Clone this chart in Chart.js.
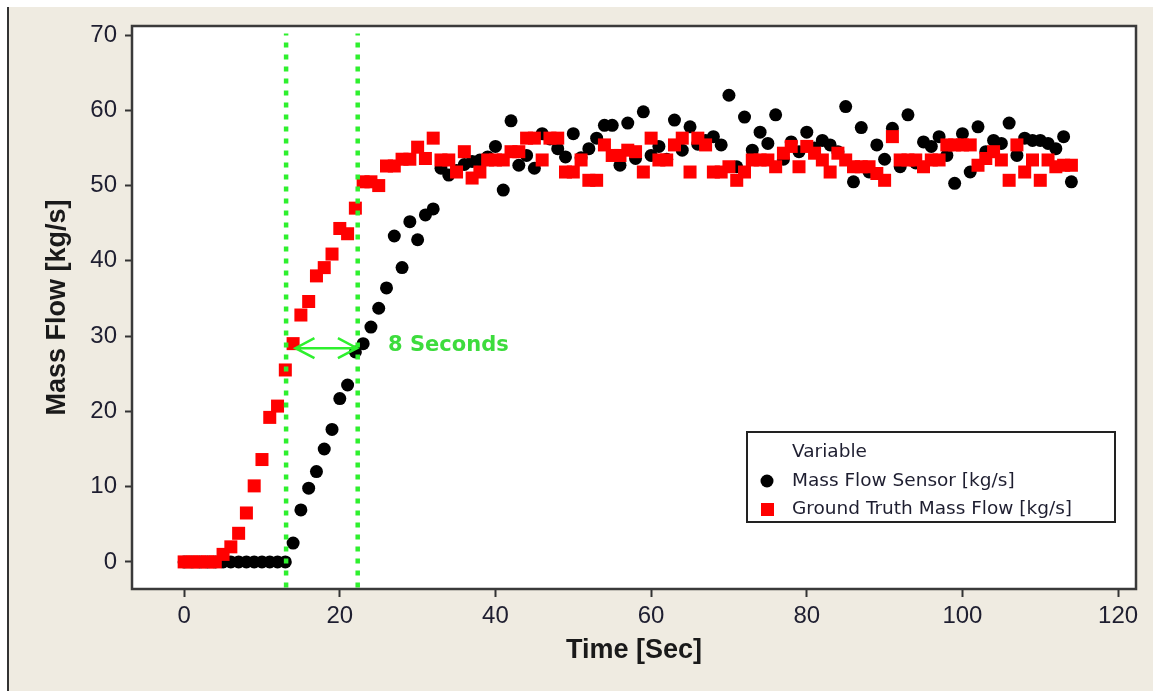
<!DOCTYPE html>
<html>
<head>
<meta charset="utf-8">
<title>Mass Flow</title>
<script src="https://cdn.jsdelivr.net/npm/chart.js@4.4.0/dist/chart.umd.min.js"></script>
<style>
  html, body { margin: 0; padding: 0; background: #ffffff; }
  #frame { position: absolute; left: 7px; top: 7px; width: 1146px; height: 684px; background: #efebe1; border-left: 2px solid #333; box-sizing: border-box; }
  #wrap { position: absolute; left: 0; top: 0; width: 1153px; height: 691px; }
</style>
</head>
<body>
<div id="frame"></div>
<div id="wrap"><canvas id="myChart" width="1153" height="691"></canvas></div>
<script>
// time axis (seconds)
var timeSec = [0, 1, 2, 3, 4, 5, 6, 7, 8, 9, 10, 11, 12, 13, 14, 15, 16, 17, 18, 19,
  20, 21, 22, 23, 24, 25, 26, 27, 28, 29, 30, 31, 32, 33, 34, 35, 36, 37, 38, 39,
  40, 41, 42, 43, 44, 45, 46, 47, 48, 49, 50, 51, 52, 53, 54, 55, 56, 57, 58, 59,
  60, 61, 62, 63, 64, 65, 66, 67, 68, 69, 70, 71, 72, 73, 74, 75, 76, 77, 78, 79,
  80, 81, 82, 83, 84, 85, 86, 87, 88, 89, 90, 91, 92, 93, 94, 95, 96, 97, 98, 99,
  100, 101, 102, 103, 104, 105, 106, 107, 108, 109, 110, 111, 112, 113, 114];

// Mass Flow Sensor [kg/s]
var sensorFlow = [0, 0, 0, 0, 0, 0, 0, 0, 0, 0, 0, 0, 0, 0,
  2.5, 6.9, 9.8, 12, 15, 17.6, 21.7, 23.5, 27.9, 29, 31.2, 33.7, 36.4, 43.3, 39.1, 45.2, 42.8, 46.1, 46.9,
  52.3, 51.4, 52, 52.8, 53.2, 53.4, 53.8, 55.2, 49.4, 58.6,
  52.7, 54, 52.3, 56.9, 56.2, 54.9, 53.8, 56.9, 53.7, 54.9,
  56.3, 58, 58, 52.7, 58.3, 53.6, 59.8, 54, 55.2, 53.5,
  58.7, 54.7, 57.8, 55.5, 56, 56.5, 55.4, 62, 52.5, 59.1,
  54.7, 57.1, 55.6, 59.4, 53.5, 55.8, 54.5, 57.1, 55, 56,
  55.4, 54.5, 60.5, 50.5, 57.7, 51.8, 55.4, 53.5, 57.6, 52.5,
  59.4, 53, 55.8, 55.2, 56.5, 54, 50.3, 56.9, 51.8, 57.8,
  54.5, 56, 55.6, 58.3, 54, 56.3, 56, 56, 55.6, 54.9,
  56.5, 50.5];

// Ground Truth Mass Flow [kg/s]
var truthFlow = [0, 0, 0, 0, 0,
  1, 2, 3.8, 6.5, 10.1, 13.6, 19.2, 20.7, 25.5, 29, 32.8, 34.6, 38, 39.1, 40.9, 44.3, 43.6, 47,
  50.5, 50.5, 50, 52.6, 52.6, 53.5, 53.5, 55.1, 53.6, 56.3,
  53.4, 53.4, 51.8, 54.5, 51, 51.8, 53.4, 53.4, 53.4, 54.5,
  54.5, 56.3, 56.3, 53.4, 56.3, 56.3, 51.8, 51.8, 53.4, 50.7,
  50.7, 55.4, 54, 54, 54.7, 54.5, 51.8, 56.3, 53.4, 53.4,
  55.4, 56.3, 51.8, 56.3, 55.4, 51.8, 51.8, 52.5, 50.7, 51.8,
  53.4, 53.4, 53.4, 52.5, 54.3, 55.2, 52.5, 55.2, 54.3, 53.4,
  51.8, 54.3, 53.4, 52.5, 52.5, 52.5, 51.6, 50.7, 56.5, 53.4,
  53.4, 53.4, 52.5, 53.4, 53.4, 55.4, 55.4, 55.4, 55.4, 52.7,
  53.6, 54.5, 53.4, 50.7, 55.4, 51.8, 53.4, 50.7, 53.4, 52.5,
  52.7, 52.7];

var xTicks = [0, 20, 40, 60, 80, 100, 120];
var yTicks = [0, 10, 20, 30, 40, 50, 60, 70];

// the two vertical markers and the 8 second arrow
var markerTimes = [13.1, 22.3];
var markerTop = 70.2;
var arrowFrom = 14.3, arrowTo = 22.2, arrowY = 28.4;
var delayLabel = '8 Seconds';
var delayLabelX = 26.2, delayLabelY = 28.8;

var green = '#2ef02e';
var textColor = '#1e1e30';

function toPoints(xs, ys) {
  return xs.map(function(x, i) { return { x: x, y: ys[i] }; });
}

var plotBackground = {
  id: 'plotBackground',
  beforeDraw: function(chart) {
    var a = chart.chartArea, c = chart.ctx;
    c.save();
    c.fillStyle = '#ffffff';
    c.fillRect(a.left, a.top, a.right - a.left, a.bottom - a.top);
    c.restore();
  }
};

var plotFrame = {
  id: 'plotFrame',
  afterDatasetsDraw: function(chart) {
    var a = chart.chartArea, c = chart.ctx;
    var xs = chart.scales.x, ys = chart.scales.y;
    c.save();
    // arrow between the markers
    var x1 = xs.getPixelForValue(arrowFrom), x2 = xs.getPixelForValue(arrowTo), y = ys.getPixelForValue(arrowY);
    c.strokeStyle = green;
    c.lineWidth = 2.5;
    c.beginPath();
    c.moveTo(x1, y); c.lineTo(x2, y);
    c.moveTo(x1 + 19, y - 10); c.lineTo(x1, y); c.lineTo(x1 + 19, y + 10);
    c.moveTo(x2 - 19, y - 10); c.lineTo(x2, y); c.lineTo(x2 - 19, y + 10);
    c.stroke();
    c.fillStyle = '#3ddc3d';
    c.font = 'bold 21px "DejaVu Sans"';
    c.textAlign = 'left';
    c.textBaseline = 'middle';
    c.fillText(delayLabel, xs.getPixelForValue(delayLabelX), ys.getPixelForValue(delayLabelY));
    // frame round the plot
    c.strokeStyle = '#3a3a3a';
    c.lineWidth = 2.5;
    c.strokeRect(a.left, a.top, a.right - a.left, a.bottom - a.top);
    c.restore();
  }
};

var legendBox = {
  id: 'legendBox',
  afterDraw: function(chart) {
    var a = chart.chartArea, c = chart.ctx;
    var x0 = a.right - 389, y0 = a.bottom - 157, w = 368, h = 90;
    var ds = chart.data.datasets;
    c.save();
    c.fillStyle = '#ffffff';
    c.fillRect(x0, y0, w, h);
    c.strokeStyle = '#222222';
    c.lineWidth = 2;
    c.strokeRect(x0, y0, w, h);
    c.font = '18.5px "DejaVu Sans"';
    c.textBaseline = 'middle';
    c.textAlign = 'left';
    c.fillStyle = textColor;
    c.fillText('Variable', x0 + 45, y0 + 20);
    c.fillText(ds[0].label, x0 + 45, y0 + 49);
    c.fillText(ds[1].label, x0 + 45, y0 + 77);
    c.fillStyle = '#000000';
    c.beginPath();
    c.arc(x0 + 20, y0 + 49, 6.5, 0, Math.PI * 2);
    c.fill();
    c.fillStyle = '#ff0000';
    c.fillRect(x0 + 14, y0 + 71, 13, 13);
    c.restore();
  }
};

var ctx = document.getElementById('myChart').getContext('2d');

var myChart = new Chart(ctx, {
  type: 'scatter',
  data: {
    datasets: [
      {
        label: 'Mass Flow Sensor [kg/s]',
        data: toPoints(timeSec, sensorFlow),
        pointStyle: 'circle',
        pointRadius: 6.5,
        pointHoverRadius: 6.5,
        backgroundColor: '#000000',
        borderWidth: 0,
        order: 2
      },
      {
        label: 'Ground Truth Mass Flow [kg/s]',
        data: toPoints(timeSec, truthFlow),
        pointStyle: 'rect',
        pointRadius: 9.2,
        pointHoverRadius: 9.2,
        backgroundColor: '#ff0000',
        borderWidth: 0,
        order: 1
      },
      {
        label: 'marker1',
        type: 'line',
        data: [{ x: markerTimes[0], y: -5 }, { x: markerTimes[0], y: markerTop }],
        borderColor: green,
        borderWidth: 4.5,
        borderDash: [5, 7],
        pointRadius: 0,
        fill: false,
        order: 0
      },
      {
        label: 'marker2',
        type: 'line',
        data: [{ x: markerTimes[1], y: -5 }, { x: markerTimes[1], y: markerTop }],
        borderColor: green,
        borderWidth: 4.5,
        borderDash: [5, 7],
        pointRadius: 0,
        fill: false,
        order: 0
      }
    ]
  },
  options: {
    responsive: false,
    animation: false,
    layout: { padding: { left: 0, top: 26, right: 17, bottom: 0 } },
    plugins: {
      legend: { display: false },
      tooltip: { enabled: false }
    },
    scales: {
      x: {
        type: 'linear',
        min: -6.7,
        max: 122.3,
        afterBuildTicks: function(s) { s.ticks = xTicks.map(function(v) { return { value: v }; }); },
        afterFit: function(s) { s.height = 102; },
        grid: { drawOnChartArea: false, drawTicks: true, tickLength: 8, tickColor: '#333333', tickWidth: 2 },
        border: { display: false },
        ticks: {
          autoSkip: false, maxRotation: 0, padding: 5, color: textColor,
          font: { family: '"Liberation Sans", Arial, sans-serif', size: 24 }
        },
        title: {
          display: true, text: 'Time [Sec]', color: '#1a1a1a',
          font: { family: '"Liberation Sans", Arial, sans-serif', size: 27, weight: 'bold' },
          padding: { top: 0, bottom: 24 }
        }
      },
      y: {
        type: 'linear',
        min: -3.6,
        max: 71.2,
        afterBuildTicks: function(s) { s.ticks = yTicks.map(function(v) { return { value: v }; }); },
        afterFit: function(s) { s.width = 132; },
        grid: { drawOnChartArea: false, drawTicks: true, tickLength: 7, tickColor: '#333333', tickWidth: 2 },
        border: { display: false },
        ticks: {
          autoSkip: false, padding: 8, color: textColor,
          font: { family: '"Liberation Sans", Arial, sans-serif', size: 24 }
        },
        title: {
          display: true, text: 'Mass Flow [kg/s]', color: '#1a1a1a',
          font: { family: '"Liberation Sans", Arial, sans-serif', size: 27, weight: 'bold' },
          padding: { top: 41, bottom: 0 }
        }
      }
    }
  },
  plugins: [plotBackground, plotFrame, legendBox]
});
</script>
</body>
</html>
